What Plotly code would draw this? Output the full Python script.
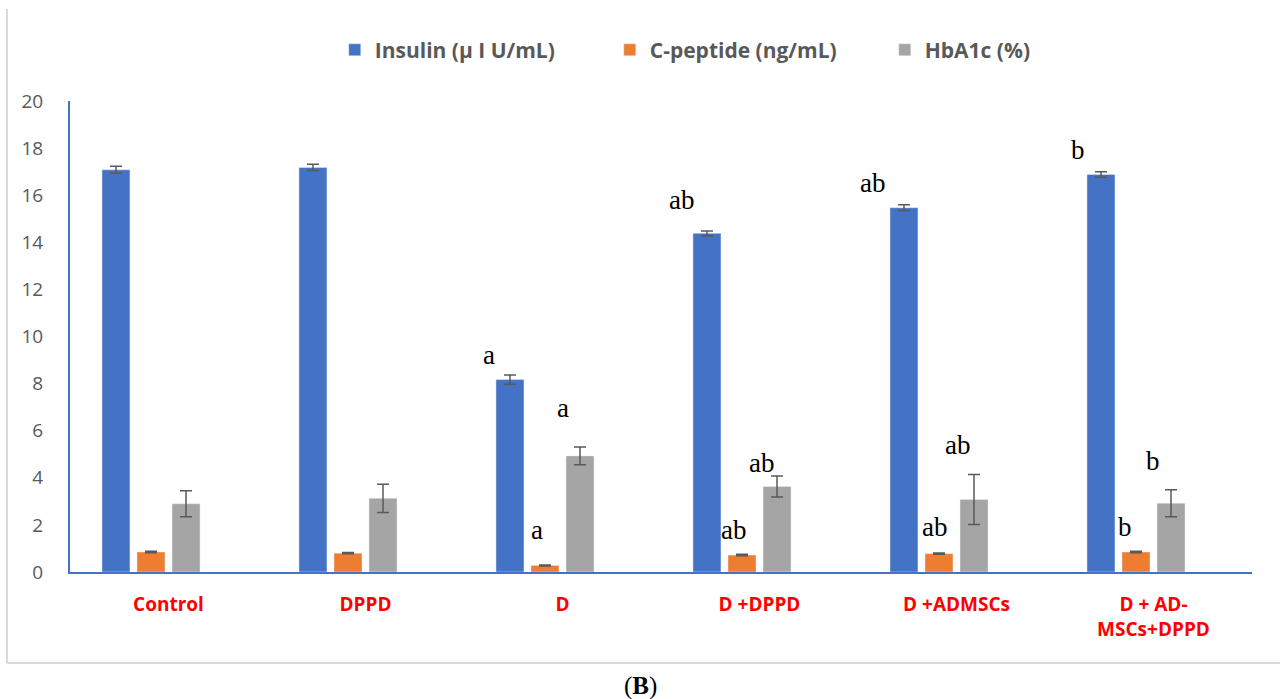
import plotly.graph_objects as go

categories = ["Control", "DPPD", "D", "D +DPPD", "D +ADMSCs", "D + AD-<br>MSCs+DPPD"]
insulin = [17.08, 17.18, 8.17, 14.38, 15.47, 16.88]
insulin_err = [0.15, 0.13, 0.2, 0.1, 0.12, 0.12]
cpeptide = [0.85, 0.80, 0.28, 0.72, 0.78, 0.85]
cpeptide_err = [0.03, 0.03, 0.02, 0.03, 0.03, 0.03]
hba1c = [2.9, 3.13, 4.93, 3.63, 3.08, 2.92]
hba1c_err = [0.55, 0.6, 0.38, 0.45, 1.06, 0.57]

# significance letters: (text, x position in category units, y value)
sig_text = ["a", "a", "a", "ab", "ab", "ab", "ab", "ab", "ab", "b", "b", "b"]
sig_x = [1.627, 2.0, 1.871, 2.605, 2.866, 3.01, 3.575, 3.886, 4.003, 4.617, 4.855, 4.997]
sig_y = [9.21, 6.96, 1.78, 15.8, 1.78, 4.63, 16.5, 1.91, 5.39, 17.9, 1.91, 4.71]

xs = list(range(len(categories)))
err_color = "#595959"

fig = go.Figure()
fig.add_trace(go.Bar(x=xs, y=insulin, name="Insulin (µ I U/mL)", marker_color="#4472C4",
                     error_y=dict(type="data", array=insulin_err, color=err_color, thickness=1.5, width=6)))
fig.add_trace(go.Bar(x=xs, y=cpeptide, name="C-peptide (ng/mL)", marker_color="#ED7D31",
                     error_y=dict(type="data", array=cpeptide_err, color=err_color, thickness=1.5, width=6)))
fig.add_trace(go.Bar(x=xs, y=hba1c, name="HbA1c (%)", marker_color="#A5A5A5",
                     error_y=dict(type="data", array=hba1c_err, color=err_color, thickness=1.5, width=6)))
# empty fourth series (reserves a slot as in the original chart)
fig.add_trace(go.Bar(x=xs, y=[None] * len(xs), name="", showlegend=False, hoverinfo="skip"))

for t, x, y in zip(sig_text, sig_x, sig_y):
    fig.add_annotation(x=x, y=y, xref="x", yref="y", text=t, showarrow=False,
                       font=dict(family="Liberation Serif", size=27, color="black"))

pa_h = 699 - 101 - 127
pa_w = 1280 - 70 - 28

fig.add_annotation(x=(640 - 70) / pa_w, y=(572 - 686) / pa_h, xref="paper", yref="paper",
                   text="(<b>B</b>)", showarrow=False, yanchor="middle",
                   font=dict(family="Liberation Serif", size=25, color="black"))

fig.update_layout(
    width=1280, height=699,
    margin=dict(l=70, r=28, t=101, b=127),
    paper_bgcolor="white", plot_bgcolor="white",
    barmode="group", bargap=0.289, bargroupgap=0.2,
    showlegend=True,
    legend=dict(orientation="h", x=0.224, xanchor="left", y=1.108, yanchor="middle",
                font=dict(family="Open Sans", size=21, color="#595959", weight="bold"),
                entrywidth=230, itemwidth=30, traceorder="normal"),
    xaxis=dict(range=[-0.5, 5.5], tickvals=xs, ticktext=categories, showline=True,
               linecolor="#4472C4", linewidth=2, showgrid=False, zeroline=False, ticks="",
               tickfont=dict(family="Open Sans", size=19, color="#FF0000", weight="bold"),
               ticklabelstandoff=14),
    yaxis=dict(range=[0, 20], dtick=2, showline=True, linecolor="#4472C4", linewidth=2,
               showgrid=False, zeroline=False, ticks="",
               tickfont=dict(family="Open Sans", size=19, color="#595959"),
               ticklabelstandoff=21),
    font=dict(family="Open Sans"),
)

# outer frame lines (left and bottom)
fx = (7 - 70) / pa_w
fig.add_shape(type="line", xref="paper", yref="paper", x0=fx, x1=fx,
              y0=(572 - 9) / pa_h, y1=(572 - 663) / pa_h, line=dict(color="#D9D9D9", width=2))
fig.add_shape(type="line", xref="paper", yref="paper", x0=fx, x1=(1280 - 70) / pa_w,
              y0=(572 - 663) / pa_h, y1=(572 - 663) / pa_h, line=dict(color="#D9D9D9", width=2))

fig.write_html("out.html")
